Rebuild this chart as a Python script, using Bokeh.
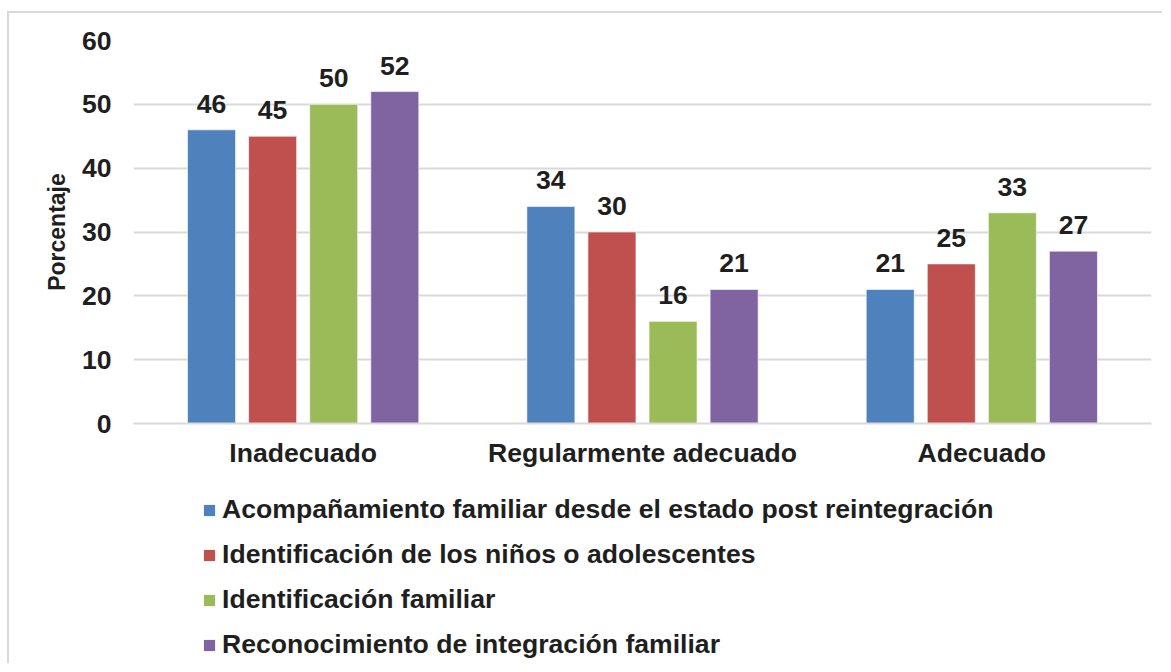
from bokeh.plotting import figure
from bokeh.models import ColumnDataSource, FactorRange, Range1d, LabelSet, Legend, LegendItem
from bokeh.core.properties import value
from bokeh.layouts import column
from bokeh.transform import dodge
from bokeh.embed import file_html
from bokeh.resources import INLINE

categories = ["Inadecuado", "Regularmente adecuado", "Adecuado"]
series_names = [
    "Acompañamiento familiar desde el estado post reintegración",
    "Identificación de los niños o adolescentes",
    "Identificación familiar",
    "Reconocimiento de integración familiar",
]
acompanamiento = [46, 34, 21]
ident_ninos = [45, 30, 25]
ident_familiar = [50, 16, 33]
reconocimiento = [52, 21, 27]
y_ticks = [0, 10, 20, 30, 40, 50, 60]

series_values = [acompanamiento, ident_ninos, ident_familiar, reconocimiento]
colors = ["#4f81bd", "#c0504d", "#9bbb59", "#8064a2"]
offsets = [-0.27, -0.09, 0.09, 0.27]
TXT = "#1f1f1f"
FONT = "Liberation Sans"
FS = "26.6px"

xr = FactorRange(*categories)
p = figure(
    x_range=xr,
    y_range=Range1d(0, 60),
    width=1153, height=470,
    output_backend="svg", toolbar_location=None,
    min_border_left=124, min_border_right=11, min_border_top=27, min_border_bottom=60,
)
p.outline_line_color = None
p.background_fill_color = "white"
p.border_fill_color = "white"

# legend panel (shares the categorical x range; its y range lies above all values so bars stay hidden)
p2 = figure(width=1153, height=180, x_range=xr, y_range=Range1d(1000, 1001),
            output_backend="svg", toolbar_location=None,
            min_border_left=124, min_border_right=11, min_border_top=0, min_border_bottom=0)
p2.axis.visible = False
p2.grid.visible = False
p2.outline_line_color = None
p2.border_fill_color = "white"
p2.background_fill_color = "white"

items = []
for name, vals, col, off in zip(series_names, series_values, colors, offsets):
    src = ColumnDataSource(dict(cat=categories, val=vals, lab=[str(v) for v in vals]))
    p.vbar(x=dodge("cat", off, range=p.x_range), top="val", width=0.1415, source=src,
           fill_color=col, line_color="white", line_width=1, line_alpha=0.6)
    lbl = LabelSet(x=dodge("cat", off, range=p.x_range), y="val", text="lab", source=src,
                   text_align="center", text_baseline="alphabetic", y_offset=17,
                   text_font=value(FONT), text_font_size=value(FS),
                   text_font_style=value("bold"), text_color=value(TXT))
    p.add_layout(lbl)
    r = p2.vbar(x=dodge("cat", off, range=xr), top="val", width=0.1415, source=src,
                fill_color=col, line_color=None)
    items.append(LegendItem(label=name, renderers=[r]))

p.xgrid.grid_line_color = None
p.ygrid.grid_line_color = "#d9d9d9"
p.ygrid.grid_line_width = 2
p.yaxis.ticker = y_ticks

p.yaxis.axis_line_color = None
p.yaxis.major_tick_line_color = None
p.yaxis.minor_tick_line_color = None
p.yaxis.major_tick_out = 0
p.yaxis.major_label_standoff = 22
p.yaxis.major_label_text_font = FONT
p.yaxis.major_label_text_font_size = FS
p.yaxis.major_label_text_font_style = "bold"
p.yaxis.major_label_text_color = TXT
p.yaxis.axis_label = "Porcentaje"
p.yaxis.axis_label_text_font = FONT
p.yaxis.axis_label_text_font_size = "23px"
p.yaxis.axis_label_text_font_style = "bold"
p.yaxis.axis_label_text_color = TXT
p.yaxis.axis_label_standoff = 9

p.xaxis.axis_line_color = "#d9d9d9"
p.xaxis.axis_line_width = 2
p.xaxis.major_tick_line_color = None
p.xaxis.minor_tick_line_color = None
p.xaxis.major_tick_out = 0
p.xaxis.major_label_standoff = 14
p.xaxis.major_label_text_font = FONT
p.xaxis.major_label_text_font_size = FS
p.xaxis.major_label_text_font_style = "bold"
p.xaxis.major_label_text_color = TXT

legend = Legend(items=items, location=(69, 3), orientation="vertical",
                glyph_width=14, glyph_height=14, label_standoff=6,
                label_height=30, spacing=14, padding=0, margin=0,
                border_line_color=None, background_fill_alpha=0,
                label_text_font=FONT, label_text_font_size=FS,
                label_text_font_style="bold", label_text_color=TXT)
p2.add_layout(legend, "center")

layout = column(p, p2, spacing=0,
                styles={"margin-top": "11px", "margin-left": "7px",
                        "border-top": "2px solid #d9d9d9", "border-left": "2px solid #d9d9d9"})

open("out.html", "w").write(file_html(layout, INLINE))
